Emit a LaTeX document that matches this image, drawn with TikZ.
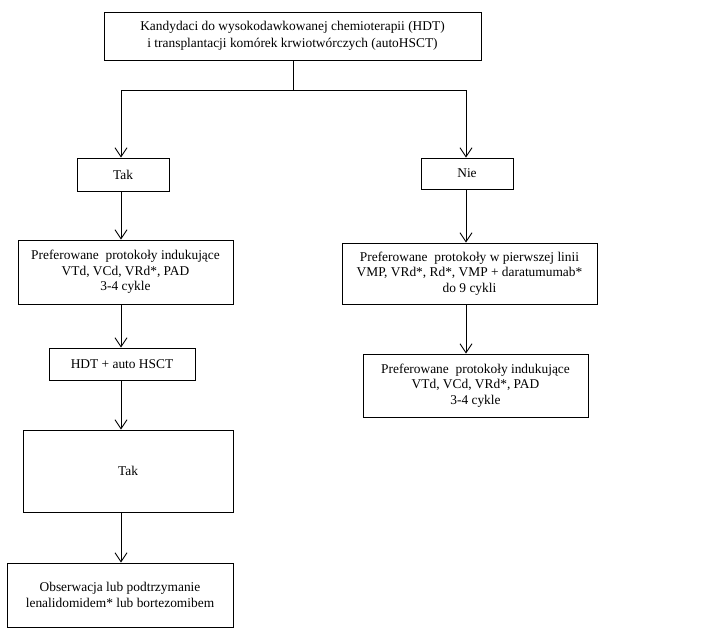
\documentclass[tikz,border=0pt]{standalone}
\usepackage{fontspec}
\setmainfont{Liberation Serif}
\usetikzlibrary{arrows.meta}
\begin{document}
\begin{tikzpicture}[x=1pt,y=-1pt,
  box/.style={draw, line width=0.9pt, align=center, inner sep=2pt, font=\fontsize{13.4}{15.5}\selectfont},
  arr/.style={draw, line width=0.9pt, -{Straight Barb[length=9pt,width=12pt,line width=0.9pt]}},
  ln/.style={draw, line width=0.9pt}]
\useasboundingbox (0,0) rectangle (703,637);
\node[box, minimum width=377pt, minimum height=48pt, font=\fontsize{13.4}{17.5}\selectfont] (top) at (292.5,36) {Kandydaci do wysokodawkowanej chemioterapii (HDT)\\ i transplantacji komórek krwiotwórczych (autoHSCT)};
\node[box, minimum width=92pt, minimum height=33pt] (tak1) at (123,174.5) {Tak};
\node[box, minimum width=215pt, minimum height=64pt] (lbox) at (125.5,272) {Preferowane\ \ protokoły indukujące\\ VTd, VCd, VRd*, PAD\\ 3-4 cykle};
\node[box, minimum width=146pt, minimum height=32pt] (hdt) at (122,364) {HDT + auto HSCT};
\node[box, minimum width=210pt, minimum height=82pt] (tak2) at (128,471) {Tak};
\node[box, minimum width=226pt, minimum height=64pt] (final) at (120,595) {Obserwacja lub podtrzymanie\\ lenalidomidem* lub bortezomibem};
\node[box, minimum width=92pt, minimum height=31pt] (nie) at (467,173.5) {Nie};
\node[box, minimum width=255pt, minimum height=61pt] (rbox) at (469.5,273.5) {Preferowane\ \ protokoły w pierwszej linii\\ VMP, VRd*, Rd*, VMP + daratumumab*\\ do 9 cykli};
\node[box, minimum width=225pt, minimum height=63pt] (rbox3) at (475.5,385.5) {Preferowane\ \ protokoły indukujące\\ VTd, VCd, VRd*, PAD\\ 3-4 cykle};
\coordinate (j) at (293,90);
\coordinate (jl) at (121,90);
\coordinate (jr) at (466,90);
\draw[ln] (top.south -| j) -- (j);
\draw[ln] (jl) -- (jr);
\draw[arr] (jl) -- (jl |- tak1.north);
\draw[arr] (jr) -- (jr |- nie.north);
\draw[arr] (jl |- tak1.south) -- (jl |- lbox.north);
\draw[arr] (jl |- lbox.south) -- (jl |- hdt.north);
\draw[arr] (jl |- hdt.south) -- (jl |- tak2.north);
\draw[arr] (jl |- tak2.south) -- (jl |- final.north);
\draw[arr] (jr |- nie.south) -- (jr |- rbox.north);
\draw[arr] (jr |- rbox.south) -- (jr |- rbox3.north);
\end{tikzpicture}
\end{document}
